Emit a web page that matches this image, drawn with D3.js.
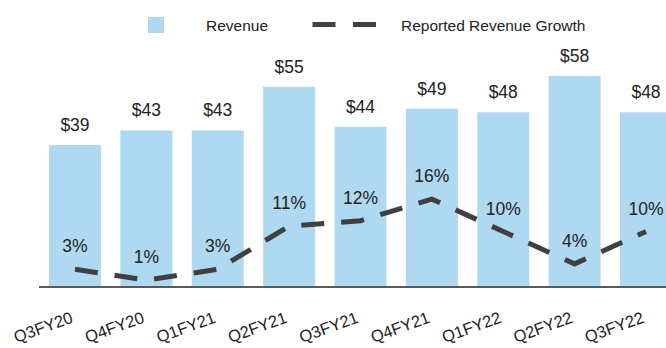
<!DOCTYPE html>
<html>
<head>
<meta charset="utf-8">
<script src="https://cdn.jsdelivr.net/npm/d3@7"></script>
<style>
  html, body { margin: 0; padding: 0; background: #ffffff; }
  svg { display: block; }
  text { font-family: "Liberation Sans", Arial, sans-serif; fill: #222222; }
</style>
</head>
<body>
<svg id="chart" width="666" height="348"></svg>
<script>
// Quarterly revenue ($) and reported revenue growth (%)
const quarters = ["Q3FY20", "Q4FY20", "Q1FY21", "Q2FY21", "Q3FY21", "Q4FY21", "Q1FY22", "Q2FY22", "Q3FY22"];
const revenue = [39, 43, 43, 55, 44, 49, 48, 58, 48];
const growth = [3, 1, 3, 11, 12, 16, 10, 4, 10];
const legendLabels = ["Revenue", "Reported Revenue Growth"];

const barColor = "#AFD8F1";
const lineColor = "#404040";
const axisColor = "#5a5a5a";

const svg = d3.select("#chart");

const x = d3.scaleBand()
  .domain(quarters)
  .range([39, 682])
  .paddingInner(0.2715)
  .paddingOuter(0.14);

const yRev = d3.scaleLinear().domain([0, 60]).range([287, 68.6]);
const yGrowth = d3.scaleLinear().domain([0, 40]).range([285.5, 69.5]);

const rows = quarters.map((q, i) => ({ q, rev: revenue[i], g: growth[i] }));

// Revenue bars
svg.append("g").selectAll("rect")
  .data(rows)
  .join("rect")
  .attr("x", d => x(d.q))
  .attr("y", d => yRev(d.rev))
  .attr("width", x.bandwidth())
  .attr("height", d => yRev(0) - yRev(d.rev))
  .attr("fill", barColor);

// Revenue labels above bars
svg.append("g").selectAll("text")
  .data(rows)
  .join("text")
  .attr("x", d => x(d.q) + x.bandwidth() / 2)
  .attr("y", d => yRev(d.rev) - 14)
  .attr("text-anchor", "middle")
  .attr("font-size", 17.5)
  .text(d => "$" + d.rev);

// Baseline axis
const xAxis = d3.axisBottom(x).tickSize(0).tickFormat("");
const axisG = svg.append("g")
  .attr("transform", `translate(0,${yRev(0)})`)
  .call(xAxis);
axisG.select(".domain")
  .attr("stroke", axisColor)
  .attr("stroke-width", 2.2)
  .attr("d", `M${x.range()[0]},0H${x.range()[1]}`);

// Rotated category labels
svg.append("g").selectAll("text")
  .data(rows)
  .join("text")
  .attr("transform", d => `translate(${x(d.q) + x.bandwidth() / 2 - 1},322) rotate(-20)`)
  .attr("text-anchor", "end")
  .attr("font-size", 16.5)
  .text(d => d.q);

// Growth line (dashed)
const line = d3.line()
  .x(d => x(d.q) + x.bandwidth() / 2)
  .y(d => yGrowth(d.g));

svg.append("path")
  .datum(rows)
  .attr("d", line)
  .attr("fill", "none")
  .attr("stroke", lineColor)
  .attr("stroke-width", 5)
  .attr("stroke-dasharray", "23,17")
  .attr("stroke-linecap", "butt");

// Growth labels
svg.append("g").selectAll("text")
  .data(rows)
  .join("text")
  .attr("x", d => x(d.q) + x.bandwidth() / 2)
  .attr("y", d => yGrowth(d.g) - 17)
  .attr("text-anchor", "middle")
  .attr("font-size", 17.5)
  .text(d => d.g + "%");

// Legend
const legend = svg.append("g");
legend.append("rect")
  .attr("x", 148).attr("y", 17)
  .attr("width", 16).attr("height", 16)
  .attr("fill", barColor);
legend.append("text")
  .attr("x", 206).attr("y", 31)
  .attr("font-size", 15.5)
  .text(legendLabels[0]);
legend.append("line")
  .attr("x1", 312.5).attr("x2", 377)
  .attr("y1", 24.5).attr("y2", 24.5)
  .attr("stroke", lineColor)
  .attr("stroke-width", 5)
  .attr("stroke-dasharray", "23,17.5");
legend.append("text")
  .attr("x", 401).attr("y", 31)
  .attr("font-size", 15.5)
  .text(legendLabels[1]);
</script>
</body>
</html>
